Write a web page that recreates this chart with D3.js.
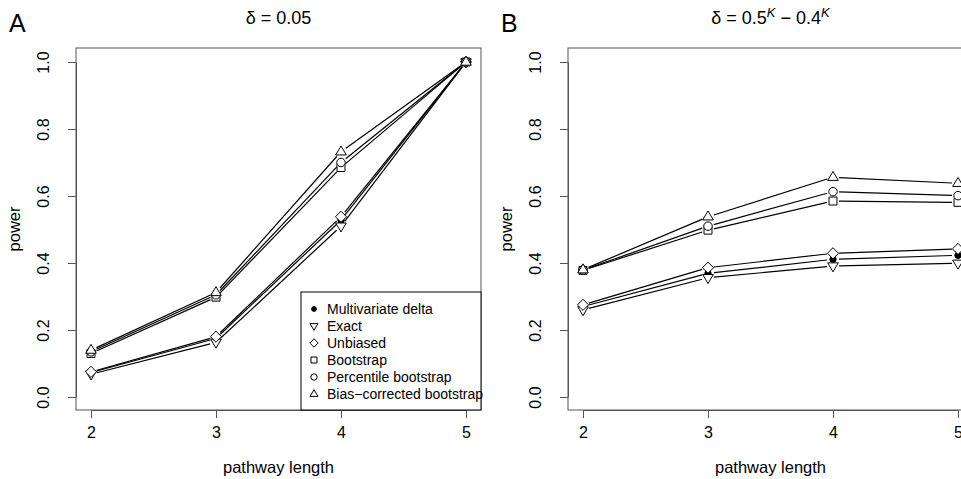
<!DOCTYPE html>
<html lang="en">
<head>
<meta charset="utf-8">
<title>Power by pathway length</title>
<script src="https://cdn.jsdelivr.net/npm/d3@7"></script>
<style>
body { margin: 0; background: #fff; font-family: 'Liberation Sans', Arial, sans-serif; }
.axis path, .axis line { stroke: #555; fill: none; }
.axis text { font-size: 16px; fill: #000; font-family: 'Liberation Sans', Arial, sans-serif; }
.frame { fill: none; stroke: #555; }
.lab { font-size: 16.5px; }
</style>
</head>
<body>
<svg width="961" height="479"></svg>
<script>
// pathway length on x
var lengths = [2, 3, 4, 5];
var yTicks = [0, 0.2, 0.4, 0.6, 0.8, 1.0];

var methods = ["Multivariate delta", "Exact", "Unbiased", "Bootstrap", "Percentile bootstrap", "Bias\u2212corrected bootstrap"];
var shapes = ["dot", "tridown", "diamond", "square", "circle", "triup"];

// panel A: delta = 0.05
var mvDeltaA  = [0.073, 0.175, 0.528, 1.0];
var exactA    = [0.068, 0.163, 0.510, 1.0];
var unbiasedA = [0.075, 0.180, 0.538, 1.0];
var bootA     = [0.130, 0.298, 0.685, 1.0];
var pctA      = [0.135, 0.305, 0.700, 1.0];
var bcA       = [0.140, 0.312, 0.732, 1.0];

// panel B: delta = 0.5^K - 0.4^K
var mvDeltaB  = [0.270, 0.369, 0.411, 0.423];
var exactB    = [0.260, 0.356, 0.391, 0.399];
var unbiasedB = [0.275, 0.386, 0.429, 0.442];
var bootB     = [0.378, 0.498, 0.585, 0.581];
var pctB      = [0.379, 0.510, 0.613, 0.601];
var bcB       = [0.380, 0.538, 0.656, 0.638];

var svg = d3.select("svg");

function symbolPath(type, s) {
  // s = half size
  switch (type) {
    case "tridown": return "M" + (-s) + "," + (-s*0.6) + "L" + s + "," + (-s*0.6) + "L0," + (s*1.1) + "Z";
    case "triup": return "M" + (-s) + "," + (s*0.6) + "L" + s + "," + (s*0.6) + "L0," + (-s*1.1) + "Z";
    case "diamond": return "M0," + (-s*1.05) + "L" + (s*1.05) + ",0L0," + (s*1.05) + "L" + (-s*1.05) + ",0Z";
    case "square": return "M" + (-s*0.75) + "," + (-s*0.75) + "h" + (s*1.5) + "v" + (s*1.5) + "h" + (-s*1.5) + "Z";
    case "circle": return d3.symbol(d3.symbolCircle, Math.PI * (s*0.8) * (s*0.8))();
    case "dot": return d3.symbol(d3.symbolCircle, Math.PI * (s*0.6) * (s*0.6))();
  }
}

function drawMark(g, type, x, y, s) {
  g.append("path")
    .attr("d", symbolPath(type, s))
    .attr("transform", "translate(" + x + "," + y + ")")
    .attr("fill", type == "dot" ? "#000" : "#fff")
    .attr("stroke", "#000")
    .attr("stroke-width", 1);
}

function panel(opts) {
  var left = opts.left, right = opts.left + 405, top = 48, bottom = 410;
  var x = d3.scaleLinear().domain([2, 5]).range([left + 15, right - 15]);
  var y = d3.scaleLinear().domain([0, 1]).range([397, 62]);
  var g = svg.append("g");

  g.append("rect").attr("class", "frame")
    .attr("x", left).attr("y", top).attr("width", right - left).attr("height", bottom - top);

  var ya = g.append("g").attr("class", "axis")
    .attr("transform", "translate(" + left + ",0)")
    .call(d3.axisLeft(y).tickValues(yTicks).tickFormat(d3.format(".1f")).tickSize(8).tickSizeOuter(0));
  ya.selectAll("text")
    .attr("x", 0).attr("y", 0).attr("dy", 0)
    .attr("text-anchor", "middle")
    .attr("transform", "translate(-27,0) rotate(-90)");

  var xa = g.append("g").attr("class", "axis")
    .attr("transform", "translate(0," + bottom + ")")
    .call(d3.axisBottom(x).tickValues(lengths).tickFormat(d3.format("d")).tickSize(8).tickSizeOuter(0));
  xa.selectAll("text").attr("y", 22).attr("dy", "0.35em");

  g.append("text").attr("class", "lab")
    .attr("x", (left + right) / 2).attr("y", 473)
    .attr("text-anchor", "middle").text("pathway length");
  g.append("text").attr("class", "lab")
    .attr("transform", "translate(" + (left - 56) + "," + ((top + bottom) / 2) + ") rotate(-90)")
    .attr("text-anchor", "middle").text("power");

  g.append("text").attr("x", left - 67).attr("y", 32)
    .style("font-size", "25px").text(opts.letter);

  var t = g.append("text").attr("x", (left + right) / 2).attr("y", 24)
    .attr("text-anchor", "middle").style("font-size", "18px");
  opts.title(t);

  // lines with gaps (type = "b")
  var gap = 6;
  opts.series.forEach(function(vals, i) {
    var pts = vals.map(function(v, j) { return [x(lengths[j]), y(v)]; });
    for (var j = 0; j < pts.length - 1; j++) {
      var dx = pts[j+1][0] - pts[j][0], dy = pts[j+1][1] - pts[j][1];
      var len = Math.sqrt(dx*dx + dy*dy);
      if (len <= 2 * gap) continue;
      var ux = dx / len, uy = dy / len;
      g.append("line")
        .attr("x1", pts[j][0] + ux*gap).attr("y1", pts[j][1] + uy*gap)
        .attr("x2", pts[j+1][0] - ux*gap).attr("y2", pts[j+1][1] - uy*gap)
        .attr("stroke", "#000").attr("stroke-width", 1.2);
    }
  });
  opts.series.forEach(function(vals, i) {
    vals.forEach(function(v, j) { drawMark(g, shapes[i], x(lengths[j]), y(v), 5.3); });
  });

  if (opts.legend) {
    var lg = g.append("g");
    lg.append("rect").attr("x", 301).attr("y", 292).attr("width", right - 301).attr("height", bottom - 292)
      .attr("fill", "#fff").attr("stroke", "#000");
    methods.forEach(function(m, i) {
      var ly = 309 + i * 17;
      drawMark(lg, shapes[i], 314, ly, 4);
      lg.append("text").attr("x", 327).attr("y", ly).attr("dy", "0.35em")
        .style("font-size", "14px").text(m);
    });
  }
}

panel({
  left: 76, letter: "A", legend: true,
  series: [mvDeltaA, exactA, unbiasedA, bootA, pctA, bcA],
  title: function(t) { t.text("\u03b4 = 0.05"); }
});

panel({
  left: 568, letter: "B", legend: false,
  series: [mvDeltaB, exactB, unbiasedB, bootB, pctB, bcB],
  title: function(t) {
    t.append("tspan").text("\u03b4 = 0.5");
    t.append("tspan").attr("dy", -7).style("font-size", "13px").style("font-style", "italic").text("K");
    t.append("tspan").attr("dy", 7).text(" \u2212 0.4");
    t.append("tspan").attr("dy", -7).style("font-size", "13px").style("font-style", "italic").text("K");
  }
});
</script>
</body>
</html>
